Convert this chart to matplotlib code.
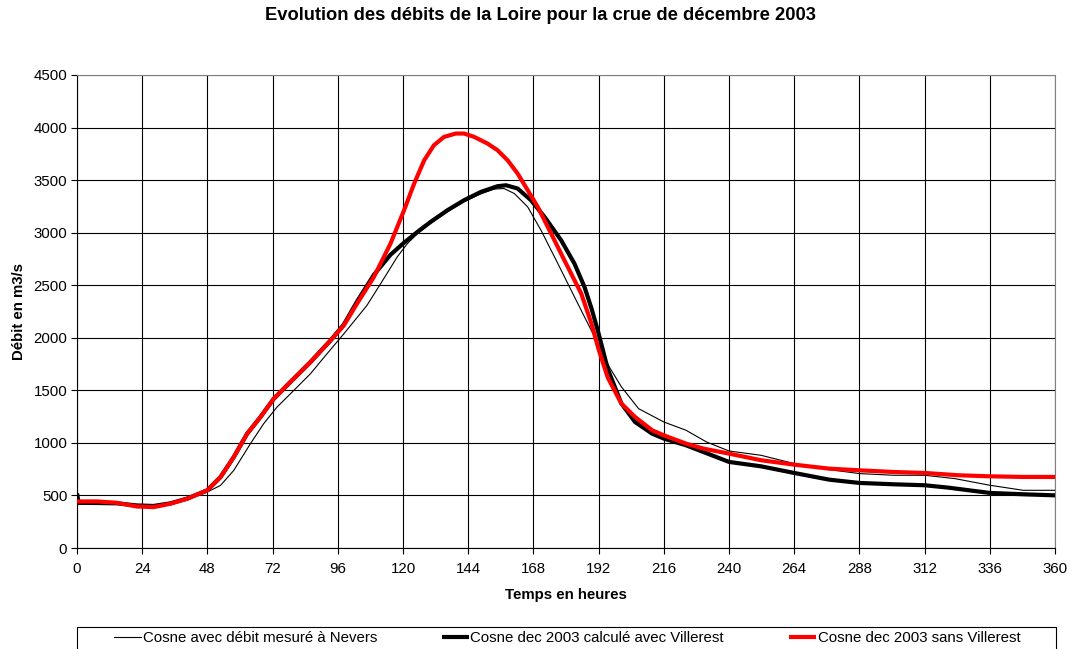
import matplotlib
matplotlib.use('Agg')
import matplotlib.pyplot as plt
from matplotlib.patches import Rectangle

plt.rcParams['font.family'] = ['Liberation Sans', 'DejaVu Sans']

# Cosne avec débit mesuré à Nevers (trait fin)
h_nevers = [0, 14, 24, 36, 47.9, 52.8, 57.7, 63.8, 68.7, 73.6, 79.8, 85.9, 92, 98.2, 106.7,
            111.8, 117.9, 121.6, 125.3, 130.2, 136.4, 142.5, 148.7, 153.6, 157.2, 161, 165.9,
            170.8, 177, 181.9, 186.8, 190.5, 192, 196, 200.4, 206.7, 216, 224.2, 231.7, 240,
            251.8, 264, 276.9, 288, 300.7, 312, 323.2, 336, 348.3, 360]
q_nevers = [420, 420, 400, 430, 532, 595, 738, 991, 1182, 1340, 1499, 1657, 1847, 2037, 2307,
            2516, 2770, 2896, 2990, 3090, 3200, 3295, 3370, 3415, 3420, 3372, 3245,
            3023, 2706, 2452, 2199, 2010, 1930, 1720, 1533, 1326, 1199, 1120, 1009, 923,
            882, 803, 746, 708, 692, 692, 660, 597, 549, 549]

# Cosne dec 2003 calculé avec Villerest (trait épais noir)
h_calc = [0, 0.6, 7.4, 14.7, 22, 28.2, 34.4, 40.5, 47.9, 52.8, 57.7, 62.6, 67.5, 72.4, 78.5,
          85.9, 93.3, 98.2, 103.1, 109.3, 115.4, 120.4, 125.3, 130.2, 136.4, 142.5, 148.7,
          154.8, 157.9, 162.2, 167.1, 172.1, 178.2, 183.1, 186.8, 189.5, 192, 195.4, 200.4,
          205.4, 211.7, 216, 224.2, 230.5, 240, 251.8, 264, 276.9, 288, 300.7, 312, 320.8,
          336, 348.3, 360]
q_calc = [520, 430, 428, 425, 405, 400, 425, 470, 548, 674, 865, 1086, 1245, 1419, 1578,
          1768, 1974, 2125, 2345, 2600, 2790, 2905, 3007, 3103, 3214, 3309, 3388,
          3442, 3451, 3420, 3309, 3150, 2928, 2706, 2484, 2270, 2040, 1700, 1374,
          1199, 1088, 1041, 977, 914, 819, 777, 714, 650, 619, 606, 597, 574,
          524, 511, 501]

# Cosne dec 2003 sans Villerest (rouge)
h_sans = [0, 7.4, 14.7, 22, 28.2, 34.4, 40.5, 47.9, 52.8, 57.7, 62.6, 67.5, 72.4, 78.5, 85.9,
          93.3, 98.2, 103.1, 109.3, 115.4, 120.4, 124.1, 127.8, 131.4, 135.1, 139.4, 142.5,
          146.2, 151.1, 154.8, 158.5, 162.2, 165.9, 169.6, 173.3, 179.4, 185.6, 189.3, 192,
          195.4, 200.4, 205.4, 211.7, 216, 224.2, 230.5, 240, 251.8, 264, 276.9, 288, 300.7,
          312, 324.5, 336, 348.3, 360]
q_sans = [443, 443, 430, 395, 389, 421, 468, 548, 674, 865, 1086, 1245, 1419, 1578, 1768,
          1974, 2117, 2326, 2579, 2896, 3214, 3467, 3689, 3832, 3911, 3943, 3943,
          3911, 3848, 3784, 3689, 3562, 3404, 3245, 3055, 2738, 2421, 2140, 1890,
          1620, 1374, 1247, 1120, 1072, 993, 946, 898, 835, 793, 755, 739, 723,
          714, 692, 682, 676, 676]

x_ticks = list(range(0, 361, 24))
y_ticks = list(range(0, 4501, 500))

W, H = 1073, 649
fig = plt.figure(figsize=(W / 100, H / 100), dpi=100)
ax = fig.add_axes([77 / W, 1 - 548 / H, (1055 - 77) / W, (548 - 75) / H])

ax.plot(h_nevers, q_nevers, color='black', lw=0.8, label='Cosne avec débit mesuré à Nevers', zorder=3)
ax.plot(h_calc, q_calc, color='black', lw=3.0, label='Cosne dec 2003 calculé avec Villerest',
        solid_joinstyle='round', solid_capstyle='butt', zorder=4)
ax.plot(h_sans, q_sans, color='#ff0000', lw=3.0, label='Cosne dec 2003 sans Villerest',
        solid_joinstyle='round', solid_capstyle='butt', zorder=5)

ax.set_xlim(0, 360)
ax.set_ylim(0, 4500)
ax.set_xticks(x_ticks)
ax.set_yticks(y_ticks)
ax.grid(True, color='black', lw=0.8)
ax.set_axisbelow(True)
ax.tick_params(labelsize=10.8, length=4, width=0.8, color='black', direction='out', pad=3)
ax.tick_params(axis='x', pad=6)
for s in ['top', 'right']:
    ax.spines[s].set_color('#808080')
for s in ['left', 'bottom']:
    ax.spines[s].set_color('black')

ax.set_xlabel('Temps en heures', fontsize=10.8, fontweight='bold', labelpad=9)
ax.set_ylabel('Débit en m3/s', fontsize=10.8, fontweight='bold', labelpad=5)
fig.text(540 / W, 1 - 15 / H, 'Evolution des débits de la Loire pour la crue de décembre 2003',
         ha='center', va='center', fontsize=13.2, fontweight='bold')

# cadre de la légende
fig.patches.append(Rectangle((77 / W, -0.02), (1056 - 77) / W, 1 - 627 / H + 0.02,
                             transform=fig.transFigure, fill=False, edgecolor='black', lw=0.8))
fig.legend(loc='center', bbox_to_anchor=(567 / W, 1 - 638 / H), ncol=3, frameon=False,
           fontsize=10.8, columnspacing=4.3, handlelength=1.8, handletextpad=0.13,
           borderpad=0.0)

fig.savefig('out.png', dpi=100)
plt.close(fig)
